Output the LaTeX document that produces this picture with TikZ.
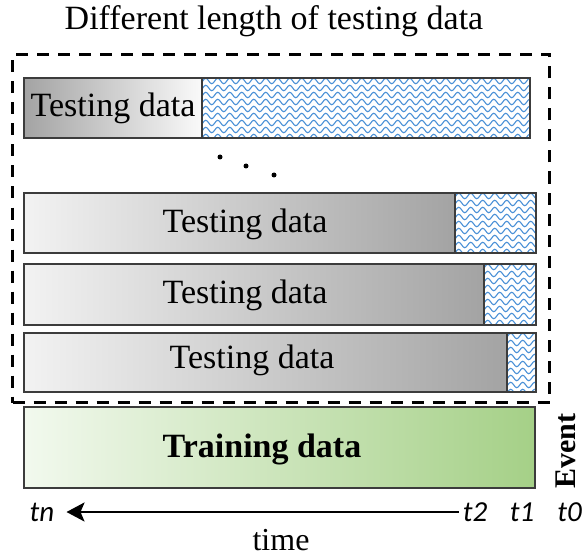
\documentclass[tikz,border=0pt]{standalone}
\usepackage{fontspec}
\setmainfont{Liberation Serif}
\newfontfamily\calib{Carlito}
\usetikzlibrary{decorations.pathmorphing,arrows.meta}
\definecolor{hatchblue}{RGB}{75,145,215}
\definecolor{edgegray}{RGB}{60,60,60}
\definecolor{greenR}{RGB}{165,208,135}
\definecolor{greenL}{RGB}{242,249,238}
\newcommand\myhatch[4]{%
  \begin{scope}
    \clip (#1,#2) rectangle (#3,#4);
    \pgfmathsetmacro\ystart{#2+3}
    \pgfmathsetmacro\ynext{#2+10}
    \foreach \yy in {\ystart,\ynext,...,#4}
      \draw[wave] (#1-12,\yy) -- (#3+12,\yy);
  \end{scope}}
\begin{document}
\begin{tikzpicture}[x=1pt,y=-1pt,
  barbox/.style={draw=edgegray, line width=1.3pt, rectangle, anchor=north west,
    inner sep=0pt, outer sep=0pt},
  grayfade/.style={barbox, left color=black!5, right color=black!36},
  grayfadeR/.style={barbox, left color=black!36, right color=black!2},
  greenfade/.style={barbox, left color=greenL, right color=greenR},
  hatchbox/.style={barbox, fill=white},
  lbl/.style={font=\fontsize{34}{38}\selectfont, inner sep=0pt},
  tlbl/.style={font=\calib\itshape\fontsize{29}{32}\selectfont, inner sep=0pt},
  wave/.style={draw=hatchblue, line width=1.1pt, decorate,
    decoration={snake, amplitude=2.7pt, segment length=12pt}},
  dotmark/.style={circle, fill=black, inner sep=0pt, minimum size=5pt},
  framebox/.style={draw=black, line width=3pt, dash pattern=on 12pt off 9pt,
    rectangle, anchor=north west, inner sep=0pt},
]
\useasboundingbox (0,0) rectangle (583,556);

% title
\node[font=\fontsize{34}{38}\selectfont, anchor=base, inner sep=0pt] (title) at (274,30) {Different length of testing data};

% bar 1
\node[grayfadeR, minimum width=178pt, minimum height=60pt] (g1) at (24,78) {};
\node[hatchbox, minimum width=328pt, minimum height=60pt] (h1) at (202,78) {};
\myhatch{202}{78}{530}{138}
\draw[edgegray, line width=1.3pt] (h1.north west) rectangle (h1.south east);
\node[lbl] (l1) at (g1.center) {Testing data};

% dots
\node[dotmark] (d1) at (220,157) {};
\node[dotmark] (d2) at (246,166) {};
\node[dotmark] (d3) at (274,175) {};

% bar 2
\node[grayfade, minimum width=431pt, minimum height=60pt] (g2) at (24,193) {};
\node[hatchbox, minimum width=81pt, minimum height=60pt] (h2) at (455,193) {};
\myhatch{455}{193}{536}{253}
\draw[edgegray, line width=1.3pt] (h2.north west) rectangle (h2.south east);
\node[lbl] (l2) at (245,224) {Testing data};

% bar 3
\node[grayfade, minimum width=460pt, minimum height=61pt] (g3) at (24,264) {};
\node[hatchbox, minimum width=52pt, minimum height=61pt] (h3) at (484,264) {};
\myhatch{484}{264}{536}{325}
\draw[edgegray, line width=1.3pt] (h3.north west) rectangle (h3.south east);
\node[lbl] (l3) at (245,295) {Testing data};

% bar 4
\node[grayfade, minimum width=483pt, minimum height=59pt] (g4) at (24,333) {};
\node[hatchbox, minimum width=29pt, minimum height=59pt] (h4) at (507,333) {};
\myhatch{507}{333}{536}{392}
\draw[edgegray, line width=1.3pt] (h4.north west) rectangle (h4.south east);
\node[lbl] (l4) at (252,360) {Testing data};

% dashed frame
\node[framebox, minimum width=537pt, minimum height=348pt] (frame) at (11,53) {};

% training
\node[greenfade, minimum width=511pt, minimum height=81pt] (train) at (24,407) {};
\node[font=\bfseries\fontsize{34}{38}\selectfont, inner sep=0pt] (ltrain) at (262,449) {Training data};

% event
\node[font=\bfseries\fontsize{30}{34}\selectfont, inner sep=0pt, rotate=90] (event) at (566,451) {Event};

% time axis
\node[tlbl] (tn) at (42,512) {tn};
\node[tlbl] (t2) at (475,512) {t2};
\node[tlbl] (t1) at (522,512) {t1};
\node[tlbl, anchor=east] (t0) at (582,512) {t0};
\draw[line width=2.2pt, -{Stealth[length=18pt, width=19pt, inset=4pt]}] ([xshift=-4pt]t2.west) -- ([xshift=12pt]tn.east);
\node[font=\fontsize{32}{36}\selectfont, anchor=base, inner sep=0pt] (time) at (281,550) {time};
\end{tikzpicture}
\end{document}
